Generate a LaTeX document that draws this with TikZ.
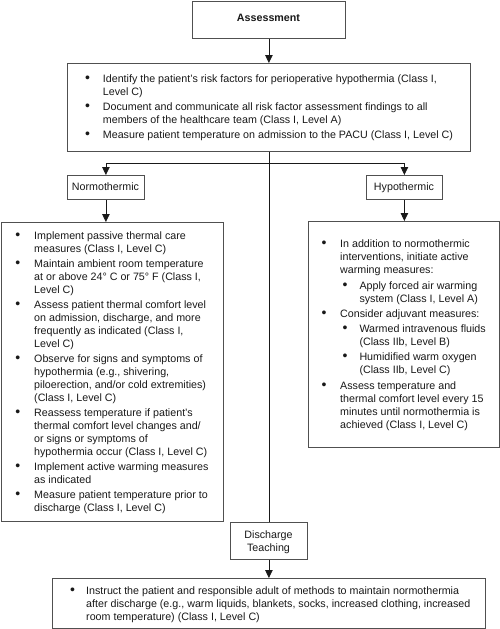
\documentclass[tikz,border=0pt]{standalone}
\usepackage{fontspec}
\setmainfont{Liberation Sans}
\usetikzlibrary{arrows.meta}
\definecolor{edge}{RGB}{80,80,80}
\definecolor{ink}{RGB}{25,25,25}
\newcommand{\dotb}{{\fontsize{14}{13}\selectfont\raisebox{-0.3pt}{\textbullet}}}
\newcommand{\BI}{\makebox[18.7pt][l]{\dotb}}
\newcommand{\BC}{\hspace*{18.7pt}}
\newcommand{\SI}{\hspace*{21pt}\makebox[17pt][l]{\dotb}}
\newcommand{\SC}{\hspace*{38pt}}
\begin{document}
\begin{tikzpicture}[x=1pt,y=-1pt,
  box/.style={draw=edge,line width=0.8pt,inner sep=0pt},
  txt/.style={inner sep=0pt,text=ink,font=\fontsize{10.7}{13}\selectfont},
  arr/.style={draw=ink,line width=0.8pt,-{Triangle[width=7.5pt,length=8pt]}},
  con/.style={draw=ink,line width=0.8pt}]
\useasboundingbox (0,0) rectangle (500,629);
\fill[white] (0,0) rectangle (500,629);
% boxes
\node[box,anchor=north west,minimum width=153pt,minimum height=37.5pt] (assess) at (192,0.5) {};
\node[box,anchor=north west,minimum width=403pt,minimum height=88pt] (main) at (67,63) {};
\node[box,anchor=north west,minimum width=77pt,minimum height=24pt] (normo) at (67,175) {};
\node[box,anchor=north west,minimum width=76pt,minimum height=24pt] (hypo) at (366,175) {};
\node[box,anchor=north west,minimum width=222.5pt,minimum height=299pt] (normobox) at (0.5,222) {};
\node[box,anchor=north west,minimum width=190.5pt,minimum height=226pt] (hypobox) at (308,221) {};
\node[box,anchor=north west,minimum width=77pt,minimum height=37pt] (disch) at (230,522) {};
\node[box,anchor=north west,minimum width=433pt,minimum height=50pt] (bottom) at (52,578) {};
% titles
\node[txt,anchor=base,font=\fontsize{10.7}{13}\selectfont\bfseries] (tA) at (268.5,21.5) {Assessment};
\node[txt,anchor=base] (tN) at (105.5,190.5) {Normothermic};
\node[txt,anchor=base] (tH) at (404,190.5) {Hypothermic};
\node[txt,anchor=base] (tD) at (268.5,538.5) {\begin{tabular}[t]{@{}c@{}}Discharge\\Teaching\end{tabular}};
% main text
\node[txt,anchor=base west] (tM) at (85,82.5) {\begin{tabular}[t]{@{}l@{}}
\makebox[17.7pt][l]{\dotb}Identify the patient’s risk factors for perioperative hypothermia (Class I,\\
\hspace*{17.7pt}Level C)\\[2pt]
\makebox[17.7pt][l]{\dotb}Document and communicate all risk factor assessment findings to all\\
\hspace*{17.7pt}members of the healthcare team (Class I, Level A)\\[2pt]
\makebox[17.7pt][l]{\dotb}Measure patient temperature on admission to the PACU (Class I, Level C)
\end{tabular}};
% normothermic list
\node[txt,anchor=base west] (tNL) at (15.3,239.5) {\begin{tabular}[t]{@{}l@{}}
\BI Implement passive thermal care\\
\BC measures (Class I, Level C)\\[2pt]
\BI Maintain ambient room temperature\\
\BC at or above 24° C or 75° F (Class I,\\
\BC Level C)\\[2pt]
\BI Assess patient thermal comfort level\\
\BC on admission, discharge, and more\\
\BC frequently as indicated (Class I,\\
\BC Level C)\\[2pt]
\BI Observe for signs and symptoms of\\
\BC hypothermia (e.g., shivering,\\
\BC piloerection, and/or cold extremities)\\
\BC (Class I, Level C)\\[2pt]
\BI Reassess temperature if patient’s\\
\BC thermal comfort level changes and/\\
\BC or signs or symptoms of\\
\BC hypothermia occur (Class I, Level C)\\[2pt]
\BI Implement active warming measures\\
\BC as indicated\\[2pt]
\BI Measure patient temperature prior to\\
\BC discharge (Class I, Level C)
\end{tabular}};
% hypothermic list
\node[txt,anchor=base west] (tHL) at (321.3,247.5) {\begin{tabular}[t]{@{}l@{}}
\BI In addition to normothermic\\
\BC interventions, initiate active\\
\BC warming measures:\\[3pt]
\SI Apply forced air warming\\
\SC system (Class I, Level A)\\[2pt]
\BI Consider adjuvant measures:\\[2pt]
\SI Warmed intravenous fluids\\
\SC (Class IIb, Level B)\\[2pt]
\SI Humidified warm oxygen\\
\SC (Class IIb, Level C)\\[3pt]
\BI Assess temperature and\\
\BC thermal comfort level every 15\\
\BC minutes until normothermia is\\
\BC achieved (Class I, Level C)
\end{tabular}};
% bottom text
\node[txt,anchor=base west] (tB) at (70,594.5) {\begin{tabular}[t]{@{}l@{}}
\makebox[16pt][l]{\dotb}Instruct the patient and responsible adult of methods to maintain normothermia\\
\hspace*{16pt}after discharge (e.g., warm liquids, blankets, socks, increased clothing, increased\\
\hspace*{16pt}room temperature) (Class I, Level C)
\end{tabular}};
% connectors
\coordinate (split) at (268,163);
\draw[arr] (assess.south) -- (main.north);
\draw[con] (main.south) -- (disch.north);
\draw[arr] (split) -| (normo.north);
\draw[arr] (split) -| (hypo.north);
\draw[arr] (normo.south) -- (normo.south |- normobox.north);
\draw[arr] (hypo.south) -- (hypo.south |- hypobox.north);
\draw[arr] (disch.south) -- (bottom.north);
\end{tikzpicture}
\end{document}
